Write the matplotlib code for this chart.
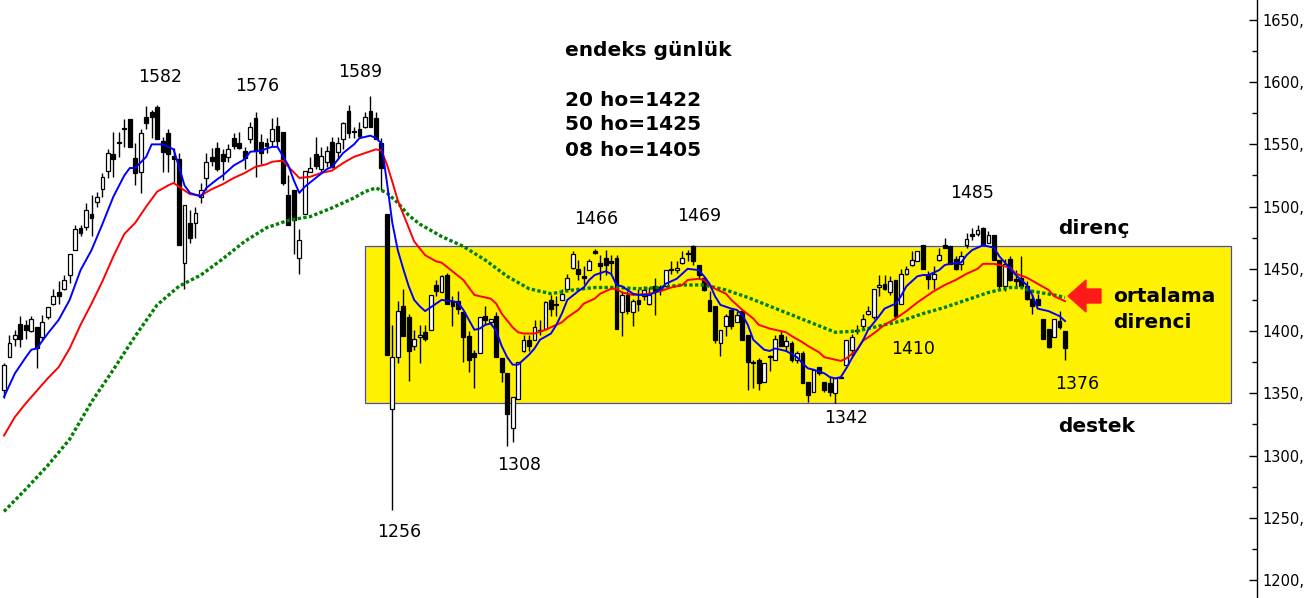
import numpy as np
import matplotlib.pyplot as plt
from matplotlib.patches import Rectangle, Polygon
from matplotlib.ticker import MultipleLocator, FixedLocator, FuncFormatter

W, H = 1306, 598

# gunluk mum verileri
acilis = [1353, 1379, 1394, 1406, 1405, 1400, 1403, 1395, 1411, 1422,
          1431, 1434, 1445, 1465, 1483, 1484, 1494, 1504, 1514, 1529,
          1542, 1552, 1563, 1570, 1539, 1528, 1572, 1576, 1580, 1553,
          1559, 1541, 1538, 1455, 1487, 1487, 1508, 1523, 1540,
          1547, 1542, 1540, 1555, 1551, 1545, 1554, 1571, 1552, 1551,
          1553, 1565, 1560, 1509, 1513, 1459, 1494, 1528, 1542, 1530,
          1536, 1552, 1544, 1554, 1577, 1561, 1562, 1564, 1577, 1571,
          1551, 1494, 1337, 1379, 1420, 1411, 1388, 1395,
          1399, 1401, 1437, 1431, 1445, 1424, 1424, 1415, 1396, 1382,
          1382, 1412, 1407, 1412, 1378, 1366, 1322, 1345, 1384, 1393,
          1393, 1401, 1402, 1425, 1422, 1425, 1434, 1451, 1450, 1444,
          1449, 1464, 1455, 1459, 1456, 1459, 1415, 1429, 1415,
          1425, 1428, 1422, 1436, 1435, 1436, 1450, 1449, 1455, 1463,
          1468, 1453, 1443, 1425, 1420, 1390, 1404, 1417, 1407, 1416,
          1397, 1375, 1377, 1359, 1379, 1377, 1397, 1388, 1390, 1377,
          1382, 1359, 1351, 1371, 1359, 1358, 1350, 1362, 1373,
          1385, 1400, 1404, 1414, 1411, 1435, 1438, 1431, 1441, 1422,
          1446, 1453, 1456, 1469, 1445, 1442, 1457, 1469, 1468, 1458,
          1454, 1469, 1478, 1478, 1483, 1471, 1477, 1457, 1436, 1458,
          1442, 1443, 1436, 1426, 1426, 1410, 1402, 1395, 1408, 1400]
yuksek = [1374, 1397, 1401, 1412, 1409, 1412, 1403, 1413, 1419, 1434,
          1440, 1445, 1462, 1485, 1485, 1503, 1509, 1512, 1527, 1546,
          1560, 1560, 1570, 1570, 1551, 1562, 1581, 1578, 1582, 1556,
          1562, 1547, 1543, 1501, 1497, 1500, 1519, 1543, 1547,
          1552, 1546, 1550, 1559, 1560, 1548, 1568, 1576, 1558, 1555,
          1571, 1572, 1560, 1525, 1513, 1482, 1529, 1540, 1556, 1548,
          1549, 1556, 1556, 1568, 1582, 1564, 1568, 1576, 1589, 1576,
          1555, 1494, 1405, 1424, 1434, 1414, 1401, 1405,
          1405, 1429, 1441, 1445, 1447, 1428, 1432, 1415, 1400, 1385,
          1411, 1420, 1410, 1415, 1378, 1366, 1347, 1375, 1397, 1397,
          1409, 1409, 1424, 1429, 1428, 1434, 1446, 1464, 1457, 1452,
          1458, 1466, 1461, 1465, 1461, 1461, 1432, 1432, 1426,
          1434, 1436, 1435, 1443, 1437, 1449, 1456, 1456, 1464, 1465,
          1469, 1453, 1443, 1432, 1420, 1401, 1414, 1418, 1416, 1417,
          1397, 1377, 1378, 1374, 1381, 1397, 1401, 1396, 1392, 1384,
          1384, 1359, 1369, 1371, 1359, 1363, 1362, 1365, 1393,
          1398, 1405, 1414, 1420, 1434, 1445, 1445, 1444, 1441, 1450,
          1452, 1464, 1464, 1469, 1448, 1452, 1467, 1475, 1468, 1460,
          1464, 1479, 1483, 1485, 1484, 1480, 1477, 1457, 1458, 1460,
          1449, 1460, 1440, 1430, 1430, 1410, 1402, 1410, 1416, 1400]
dusuk = [1346, 1379, 1388, 1387, 1394, 1399, 1370, 1393, 1410, 1421,
         1422, 1433, 1439, 1465, 1476, 1481, 1476, 1500, 1508, 1523,
         1524, 1540, 1548, 1548, 1517, 1511, 1562, 1555, 1554, 1528,
         1528, 1520, 1469, 1434, 1471, 1475, 1503, 1513, 1533,
         1529, 1521, 1536, 1546, 1546, 1530, 1551, 1524, 1534, 1543,
         1548, 1548, 1517, 1485, 1462, 1446, 1494, 1528, 1530, 1528,
         1532, 1531, 1538, 1546, 1555, 1555, 1555, 1563, 1564, 1554,
         1513, 1381, 1256, 1374, 1396, 1360, 1385, 1374,
         1392, 1401, 1428, 1431, 1422, 1404, 1414, 1375, 1367, 1354,
         1382, 1406, 1405, 1379, 1359, 1308, 1311, 1345, 1383, 1384,
         1393, 1397, 1402, 1412, 1412, 1425, 1433, 1450, 1441, 1438,
         1449, 1462, 1441, 1445, 1445, 1402, 1396, 1414, 1404,
         1416, 1425, 1421, 1413, 1429, 1435, 1446, 1447, 1454, 1456,
         1453, 1442, 1432, 1416, 1390, 1380, 1396, 1402, 1407, 1393,
         1353, 1354, 1353, 1359, 1368, 1377, 1388, 1384, 1375, 1374,
         1358, 1343, 1351, 1365, 1351, 1348, 1342, 1362, 1373,
         1380, 1398, 1402, 1413, 1410, 1428, 1433, 1429, 1410, 1422,
         1445, 1452, 1456, 1450, 1434, 1434, 1456, 1467, 1454, 1449,
         1449, 1467, 1473, 1476, 1470, 1471, 1457, 1433, 1432, 1440,
         1436, 1435, 1425, 1414, 1421, 1394, 1386, 1395, 1402, 1377]
kapanis = [1373, 1390, 1397, 1394, 1401, 1410, 1386, 1407, 1419, 1428,
           1428, 1441, 1462, 1482, 1479, 1497, 1491, 1508, 1524, 1543,
           1538, 1551, 1562, 1548, 1527, 1559, 1567, 1572, 1554, 1544,
           1542, 1538, 1469, 1501, 1475, 1495, 1513, 1536, 1537,
           1530, 1537, 1546, 1549, 1547, 1539, 1564, 1545, 1543, 1549,
           1562, 1553, 1519, 1485, 1489, 1473, 1529, 1531, 1533, 1541,
           1545, 1532, 1551, 1567, 1559, 1560, 1557, 1572, 1564, 1554,
           1531, 1381, 1379, 1416, 1396, 1384, 1394, 1397,
           1394, 1429, 1432, 1444, 1422, 1420, 1418, 1395, 1377, 1379,
           1411, 1409, 1410, 1379, 1367, 1333, 1347, 1375, 1393, 1388,
           1403, 1400, 1423, 1418, 1421, 1430, 1443, 1462, 1446, 1443,
           1456, 1463, 1452, 1453, 1455, 1402, 1429, 1416, 1424,
           1422, 1433, 1429, 1432, 1434, 1449, 1449, 1451, 1459, 1462,
           1456, 1445, 1433, 1416, 1393, 1401, 1412, 1404, 1413, 1393,
           1375, 1374, 1358, 1374, 1380, 1394, 1388, 1392, 1377, 1382,
           1358, 1349, 1369, 1366, 1353, 1351, 1362, 1363, 1393,
           1395, 1401, 1410, 1416, 1434, 1437, 1434, 1440, 1412, 1446,
           1450, 1457, 1464, 1450, 1442, 1446, 1461, 1467, 1454, 1450,
           1460, 1474, 1476, 1481, 1470, 1477, 1457, 1436, 1454, 1441,
           1440, 1436, 1426, 1420, 1421, 1394, 1387, 1410, 1403, 1386]

# hareketli ortalamalar (grafikten okunan gunler ve degerler)
gun08 = [0, 2, 4, 5, 6, 8, 10, 12, 14, 16,
         18, 20, 22, 23, 24, 26, 27, 29, 31, 32,
         33, 34, 36, 37, 39, 40, 42, 44, 45, 47,
         49, 50, 52, 53, 54, 55, 57, 59, 60, 62,
         64, 65, 67, 68, 69, 70, 71, 72, 73, 74,
         75, 76, 77, 78, 80, 82, 83, 84, 85, 86,
         87, 88, 89, 90, 91, 92, 93, 94, 95, 96,
         97, 98, 100, 101, 102, 103, 105, 106, 107, 108,
         110, 111, 112, 113, 114, 115, 116, 118, 120, 121,
         123, 124, 125, 127, 128, 129, 130, 131, 133, 134,
         135, 136, 137, 139, 140, 141, 142, 143, 145, 146,
         147, 148, 150, 151, 152, 153, 154, 155, 157, 158,
         160, 161, 162, 163, 164, 165, 167, 168, 169, 171,
         172, 173, 175, 176, 177, 178, 179, 181, 182, 183,
         184, 185, 187, 188, 189, 191, 192, 193, 194]
ort08 = [1347, 1366, 1379, 1385, 1386, 1398, 1409, 1425, 1449, 1465,
         1486, 1508, 1525, 1531, 1531, 1540, 1550, 1550, 1546, 1532,
         1517, 1511, 1508, 1515, 1522, 1525, 1533, 1538, 1544, 1545,
         1548, 1548, 1533, 1521, 1511, 1516, 1523, 1530, 1532, 1543,
         1550, 1555, 1557, 1555, 1551, 1520, 1487, 1465, 1450, 1436,
         1425, 1420, 1416, 1419, 1425, 1424, 1423, 1417, 1409, 1401,
         1402, 1405, 1406, 1400, 1388, 1379, 1373, 1373, 1377, 1381,
         1386, 1393, 1398, 1405, 1414, 1425, 1432, 1435, 1441, 1445,
         1448, 1446, 1437, 1436, 1433, 1430, 1429, 1429, 1433, 1438,
         1442, 1446, 1450, 1449, 1444, 1438, 1428, 1421, 1418, 1417,
         1413, 1405, 1393, 1385, 1384, 1386, 1385, 1384, 1379, 1374,
         1370, 1369, 1366, 1363, 1362, 1363, 1370, 1378, 1392, 1401,
         1412, 1418, 1420, 1422, 1428, 1436, 1444, 1445, 1445, 1449,
         1453, 1454, 1455, 1461, 1465, 1467, 1469, 1467, 1460, 1455,
         1450, 1445, 1437, 1429, 1418, 1416, 1414, 1412, 1408]

gun20 = [0, 2, 4, 6, 8, 10, 12, 14, 16, 18,
         20, 22, 24, 26, 28, 30, 31, 32, 34, 36,
         38, 40, 42, 44, 46, 48, 49, 51, 52, 54,
         56, 58, 60, 62, 64, 66, 68, 69, 70, 71,
         72, 74, 75, 77, 79, 80, 82, 84, 85, 86,
         87, 89, 90, 91, 93, 94, 95, 97, 99, 100,
         102, 103, 105, 106, 108, 109, 111, 112, 113, 115,
         118, 120, 122, 124, 125, 127, 128, 129, 130, 132,
         133, 135, 137, 138, 140, 141, 143, 144, 146, 147,
         149, 150, 152, 153, 154, 156, 157, 159, 161, 163,
         165, 167, 168, 170, 172, 174, 176, 178, 179, 181,
         182, 184, 185, 187, 189, 191, 192, 194]
ort20 = [1316, 1331, 1342, 1352, 1362, 1371, 1386, 1405, 1422, 1440,
         1460, 1478, 1487, 1500, 1512, 1517, 1519, 1516, 1510, 1509,
         1514, 1518, 1523, 1527, 1532, 1534, 1536, 1537, 1532, 1523,
         1524, 1527, 1529, 1535, 1540, 1543, 1546, 1545, 1534, 1520,
         1505, 1483, 1472, 1461, 1456, 1455, 1448, 1441, 1435, 1429,
         1428, 1426, 1422, 1414, 1403, 1399, 1398, 1398, 1401, 1403,
         1407, 1411, 1417, 1422, 1426, 1430, 1434, 1434, 1431, 1429,
         1430, 1432, 1435, 1437, 1441, 1442, 1441, 1437, 1434, 1430,
         1425, 1417, 1410, 1405, 1402, 1401, 1399, 1396, 1391, 1388,
         1383, 1379, 1377, 1376, 1378, 1385, 1392, 1398, 1405, 1410,
         1416, 1423, 1426, 1432, 1437, 1441, 1446, 1450, 1454, 1454,
         1453, 1451, 1446, 1443, 1438, 1433, 1428, 1424]

gun50 = [0, 4, 8, 12, 16, 20, 24, 28, 32, 36,
         40, 44, 48, 52, 56, 60, 64, 66, 68, 70,
         72, 74, 76, 80, 84, 88, 92, 96, 100, 104,
         108, 112, 116, 120, 124, 128, 132, 136, 140, 144,
         148, 152, 156, 160, 164, 168, 172, 176, 180, 184,
         186, 188, 192, 194]
ort50 = [1255, 1273, 1292, 1313, 1343, 1369, 1396, 1421, 1436, 1445,
         1458, 1472, 1483, 1489, 1492, 1499, 1507, 1512, 1515, 1511,
         1503, 1493, 1486, 1476, 1468, 1457, 1444, 1434, 1430, 1433,
         1435, 1435, 1434, 1435, 1437, 1437, 1433, 1427, 1420, 1413,
         1406, 1399, 1400, 1404, 1408, 1414, 1419, 1425, 1431, 1435,
         1435, 1432, 1429, 1427]

# yatay bant: destek / direnc
bant_alt, bant_ust = 1342, 1468.5

etiketler = [('1582', 28.5, 1604), ('1576', 46.3, 1597), ('1589', 65.1, 1608),
             ('1466', 108.2, 1490), ('1469', 127.1, 1492.5), ('1485', 177, 1511),
             ('1410', 166.2, 1385.6), ('1256', 72.2, 1238.6), ('1308', 94.1, 1292.4),
             ('1342', 153.9, 1330.2), ('1376', 196.2, 1357.5)]


def px(x, y):
    return x / W, 1 - y / H


fig = plt.figure(figsize=(W / 100, H / 100), dpi=100)
ax = fig.add_axes([0, 0, 1257 / W, 1])
ax.set_xlim(-0.73, 229.1)
ax.set_ylim(1185.5, 1666)

ax.add_patch(Rectangle((66.0, bant_alt), 224.3 - 66.0, bant_ust - bant_alt,
                       facecolor='#fff200', edgecolor='#4a4ab8', lw=0.9, zorder=1))

x = np.arange(len(kapanis))
o = np.array(acilis, float)
c = np.array(kapanis, float)
yukari = c >= o
alt = np.minimum(o, c)
boy = np.maximum(np.abs(c - o), 0.7)
ax.vlines(x, dusuk, yuksek, color='black', lw=1.0, zorder=3)
ax.bar(x, boy, bottom=alt, width=0.7, color=np.where(yukari, 'white', 'black'),
       edgecolor='black', linewidth=0.9, zorder=4)

ax.plot(gun50, ort50, color='#008000', lw=2.4, linestyle=(0, (1, 0.7)),
        dash_capstyle='butt', zorder=5)
ax.plot(gun20, ort20, color='#ff0000', lw=1.4, zorder=5)
ax.plot(gun08, ort08, color='#0000ff', lw=1.4, zorder=5)

for t, k, v in etiketler:
    ax.text(k, v, t, ha='center', va='center', fontsize=12.5, color='black', zorder=6)

kalin = [('endeks günlük', 565, 50), ('20 ho=1422', 565, 100), ('50 ho=1425', 565, 125),
         ('08 ho=1405', 565, 150), ('direnç', 1058, 228), ('destek', 1058, 427),
         ('ortalama', 1113, 297), ('direnci', 1113, 322)]
for t, xx, yy in kalin:
    fig.text(*px(xx, yy), t, ha='left', va='center', fontsize=14.5, fontweight='bold')

ok = [(1068, 296), (1086, 280), (1086, 289), (1101, 289), (1101, 303),
      (1086, 303), (1086, 312)]
fig.patches.append(Polygon([px(a, b) for a, b in ok], closed=True, facecolor='#ff1a1a',
                           edgecolor='#ff1a1a', transform=fig.transFigure, figure=fig))

for s in ['left', 'top', 'bottom']:
    ax.spines[s].set_visible(False)
ax.spines['right'].set_color('black')
ax.spines['right'].set_linewidth(1.0)
ax.set_xticks([])
ax.yaxis.tick_right()
ax.yaxis.set_major_locator(FixedLocator(np.arange(1200, 1651, 50)))
ax.yaxis.set_minor_locator(MultipleLocator(25))
ax.yaxis.set_major_formatter(FuncFormatter(lambda v, p: f'{int(v)},'))
ax.tick_params(axis='y', which='major', direction='in', length=6, width=1,
               labelsize=10.5, pad=4)
ax.tick_params(axis='y', which='minor', direction='in', length=3.5, width=1)

fig.savefig('out.png', dpi=100)
